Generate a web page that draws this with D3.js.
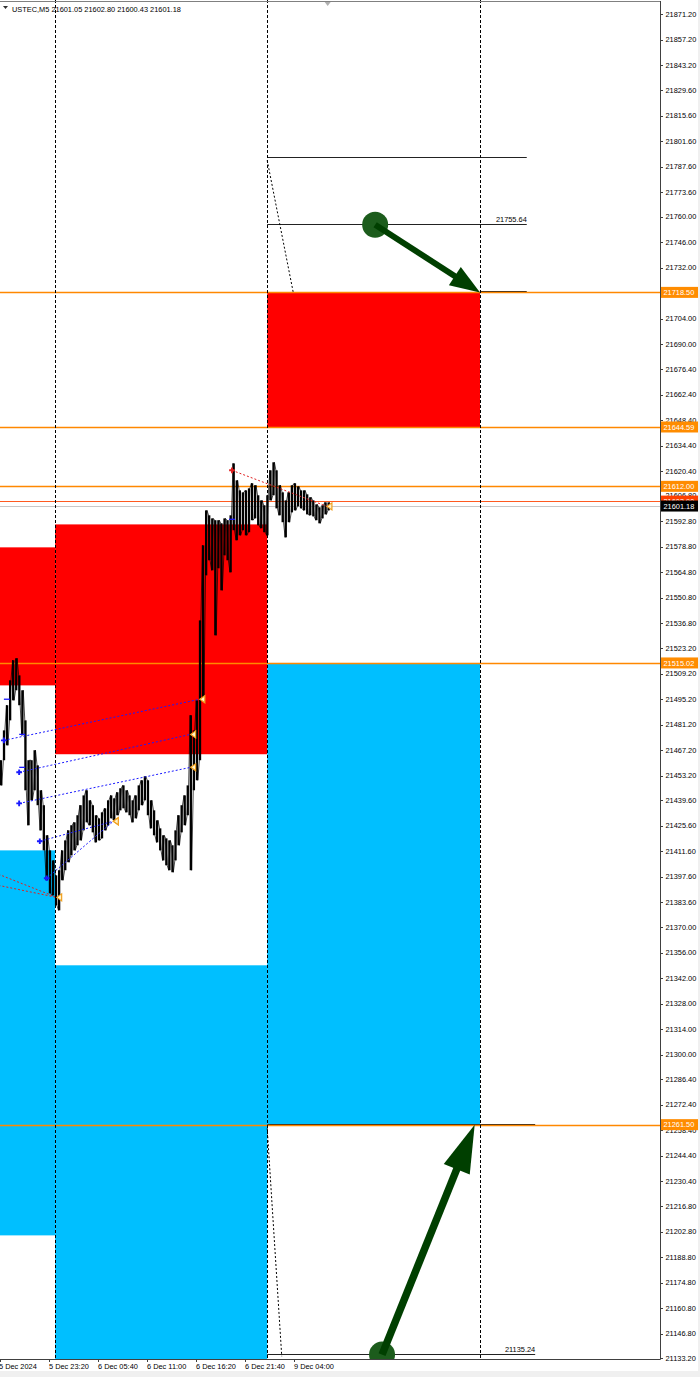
<!DOCTYPE html>
<html><head><meta charset="utf-8">
<script src="https://cdn.jsdelivr.net/npm/d3@7"></script>
<style>html,body{margin:0;padding:0;background:#fff;}svg{display:block;font-family:"Liberation Sans",Arial,sans-serif;}</style>
</head><body><svg id="c" width="700" height="1377"></svg>
<script>
// ---------------- DATA ----------------
const symbolName = "USTEC,M5";
const quote = ["21601.05", "21602.80", "21600.43", "21601.18"];

const priceTicks = [21871.20,21857.20,21843.20,21829.60,21815.60,21801.60,21787.60,21773.60,21760.00,21746.00,21732.00,
  21704.00,21690.00,21676.40,21662.40,21648.40,21634.40,21620.40,21606.80,21592.80,21578.80,21564.80,21550.80,21536.80,
  21523.20,21509.20,21495.20,21481.20,21467.20,21453.20,21439.60,21425.60,21411.60,21397.60,21383.60,21370.00,21356.00,
  21342.00,21328.00,21314.00,21300.00,21286.40,21272.40,21258.40,21244.40,21230.40,21216.80,21202.80,21188.80,21174.80,
  21160.80,21146.80,21133.20];

const timeTickIndex = [0, 64, 128, 192, 256, 320, 384];
const timeTickLabels = ["5 Dec 2024","5 Dec 23:20","6 Dec 05:40","6 Dec 11:00","6 Dec 16:20","6 Dec 21:40","9 Dec 04:00"];

// price series, one high/low pair per group of 4 M5 bars
const barStep = 4;
const barHigh = [21461.6,21478.0,21491.8,21505.5,21516.5,21517.6,21508.2,21500.0,21483.5,21461.6,
  21461.6,21467.1,21458.8,21445.1,21436.9,21420.4,21412.1,21406.6,21398.4,21401.2,
  21412.1,21417.6,21423.1,21425.9,21427.5,21431.4,21436.9,21442.3,21445.1,21439.6,
  21436.9,21431.4,21429.7,21433.0,21435.2,21439.6,21442.3,21440.7,21444.0,21446.2,
  21447.8,21445.1,21442.3,21439.6,21442.3,21447.8,21450.6,21452.8,21450.6,21439.6,
  21434.1,21428.6,21424.2,21420.4,21418.7,21417.6,21414.9,21423.1,21431.4,21436.9,
  21442.3,21447.8,21486.3,21478.0,21494.5,21538.4,21579.6,21598.8,21596.1,21594.4,
  21593.4,21593.4,21591.7,21594.4,21593.4,21596.1,21624.6,21615.3,21609.8,21608.7,
  21609.8,21610.9,21613.7,21612.6,21607.1,21604.3,21601.6,21607.1,21620.8,21625.2,
  21620.8,21612.6,21608.7,21604.3,21608.7,21612.6,21613.7,21612.0,21609.8,21609.8,
  21607.6,21606.0,21604.3,21602.1,21600.5,21601.6,21603.2,21603.2];
const barLow = [21447.8,21461.6,21469.8,21483.5,21494.5,21500.0,21491.8,21475.3,21445.1,21425.9,
  21439.6,21445.1,21436.9,21423.1,21412.1,21395.7,21388.5,21387.4,21381.9,21379.2,
  21395.7,21401.2,21405.6,21409.4,21412.1,21414.9,21417.6,21423.1,21427.5,21425.9,
  21422.0,21416.5,21417.6,21418.7,21423.1,21425.9,21429.7,21428.6,21431.4,21434.1,
  21435.2,21433.0,21431.4,21427.5,21429.7,21434.1,21436.9,21439.6,21431.4,21424.2,
  21420.4,21416.5,21412.1,21406.6,21403.9,21401.2,21400.1,21406.6,21414.9,21422.0,
  21425.9,21431.4,21401.2,21445.1,21450.6,21461.6,21494.5,21563.1,21571.4,21565.9,
  21530.2,21567.0,21554.9,21574.1,21571.4,21564.8,21587.9,21582.4,21585.1,21587.9,
  21585.1,21586.8,21593.4,21594.4,21590.6,21589.0,21586.8,21585.1,21604.3,21607.1,
  21599.9,21596.1,21592.3,21584.0,21592.3,21597.7,21598.8,21601.0,21599.9,21598.8,
  21596.6,21596.1,21595.5,21593.4,21591.7,21594.4,21596.6,21598.8];
const lastBarIndex = 428;

// supply (red) / demand (blue) zones: [startIndex, endIndex, topPrice, bottomPrice]
const redZones = [[-20, 72, 21578.5, 21502.7], [72, 349, 21591.1, 21464.9], [349, 627, 21718.50, 21644.59]];
const blueZones = [[-20, 72, 21412.1, 21200.7], [72, 349, 21349.0, 21100.0], [349, 627, 21515.02, 21261.50]];

const orangeLevels = [21718.50, 21644.59, 21612.00, 21515.02, 21261.50];
const redLevel = 21603.90;
const bidPrice = 21601.18;

const vDashIndex = [72, 349, 627];

// black level segments: [startIndex, endIndex, price, label]
const blackSegments = [[349, 688, 21792.1, ""], [349, 688, 21755.64, "21755.64"], [627, 688, 21718.50, ""],
  [349, 699, 21261.50, ""], [349, 699, 21135.24, "21135.24"]];
// dotted diagonals: [i0, p0, i1, p1]
const dottedDiagonals = [[349, 21791.0, 383, 21718.5], [349, 21259.5, 368, 21134.3]];

// trade link lines: [i0, p0, i1, p1]
const blueLinks = [[5, 21472.5, 261, 21495.1], [25, 21455.0, 249, 21475.8], [25, 21437.9, 249, 21457.7],
  [52, 21417.1, 148, 21428.1], [61, 21396.8, 148, 21428.1]];
const redLinks = [[-2, 21399.0, 74, 21386.3], [-2, 21392.9, 74, 21386.3], [303, 21620.8, 427, 21601.0]];
const closeMarks = [[9, 21495.1], [29, 21475.8], [29, 21457.7], [303, 21593.9]];

// arrows: [i0, p0, i1, p1]
const arrows = [[490, 21755.64, 627, 21718.50], [499, 21135.24, 620, 21261.50]];

// axis price tags
const priceTags = [[21718.50, "#ff8c00"], [21644.59, "#ff8c00"], [21612.00, "#ff8c00"], [21603.90, "#ff4000"],
  [21515.02, "#ff8c00"], [21261.50, "#ff8c00"], [21601.18, "#000000"]];

// ---------------- DRAW ----------------
const W = 700, H = 1377, plotR = 660, plotB = 1359;
const svg = d3.select("#c");
const x = d3.scaleLinear().domain([0, 64]).range([0, 49]);
const y = d3.scaleLinear().domain([21133.2, 21871.2]).range([1358.3, 14.3]);
const FS = 7.4;

svg.append("rect").attr("width", W).attr("height", H).attr("fill", "#fff");
svg.append("defs").append("clipPath").attr("id", "pc").append("rect")
  .attr("x", 0).attr("y", 0).attr("width", plotR).attr("height", plotB);
const g = svg.append("g").attr("clip-path", "url(#pc)");

// zones
g.selectAll(".rz").data(redZones).join("rect")
  .attr("x", d => x(d[0])).attr("width", d => x(d[1]) - x(d[0]))
  .attr("y", d => y(d[2])).attr("height", d => y(d[3]) - y(d[2])).attr("fill", "#ff0000");
g.selectAll(".bz").data(blueZones).join("rect")
  .attr("x", d => x(d[0])).attr("width", d => x(d[1]) - x(d[0]))
  .attr("y", d => y(d[2])).attr("height", d => y(d[3]) - y(d[2])).attr("fill", "#00bfff");

// bid line
g.append("line").attr("x1", 0).attr("x2", plotR).attr("y1", Math.round(y(bidPrice)) + 0.5).attr("y2", Math.round(y(bidPrice)) + 0.5)
  .attr("stroke", "#c8c8c8").attr("stroke-width", 1);

// black segments
g.selectAll(".bs").data(blackSegments).join("line")
  .attr("x1", d => x(d[0])).attr("x2", d => x(d[1]))
  .attr("y1", d => Math.round(y(d[2])) - 0.5).attr("y2", d => Math.round(y(d[2])) - 0.5)
  .attr("stroke", "#222").attr("stroke-width", 1);
g.selectAll(".bsl").data(blackSegments.filter(d => d[3])).join("text")
  .attr("x", d => x(d[1])).attr("y", d => y(d[2]) - 2.5).attr("text-anchor", "end")
  .attr("font-size", FS).attr("fill", "#000").text(d => d[3]);

// orange levels
g.selectAll(".ol").data(orangeLevels).join("line")
  .attr("x1", 0).attr("x2", plotR).attr("y1", d => Math.round(y(d)) + 0.5).attr("y2", d => Math.round(y(d)) + 0.5)
  .attr("stroke", "#ff8800").attr("stroke-width", 1.4);
g.append("line").attr("x1", 0).attr("x2", plotR).attr("y1", Math.round(y(redLevel)) + 0.5).attr("y2", Math.round(y(redLevel)) + 0.5)
  .attr("stroke", "#ff5a20").attr("stroke-width", 1);

// price series: dense high-low strokes
g.selectAll(".hl").data(barHigh).join("rect")
  .attr("x", (d, k) => x(k * barStep) - 0.2).attr("width", 2.3)
  .attr("y", d => y(d)).attr("height", (d, k) => Math.max(1, y(barLow[k]) - y(d)))
  .attr("fill", "#000");
const pts = [];
barHigh.forEach((h, k) => {
  const xx = x(k * barStep);
  if (k % 2 === 0) { pts.push([xx + 0.3, y(h)]); pts.push([xx + 1.8, y(barLow[k])]); }
  else { pts.push([xx + 0.3, y(barLow[k])]); pts.push([xx + 1.8, y(h)]); }
});
g.append("path").attr("d", d3.line()(pts)).attr("fill", "none").attr("stroke", "#000").attr("stroke-width", 0.7);

// link lines
g.selectAll(".bl").data(blueLinks).join("line")
  .attr("x1", d => x(d[0])).attr("y1", d => y(d[1])).attr("x2", d => x(d[2])).attr("y2", d => y(d[3]))
  .attr("stroke", "#1a1aff").attr("stroke-width", 1).attr("stroke-dasharray", "2,2");
g.selectAll(".rl").data(redLinks).join("line")
  .attr("x1", d => x(d[0])).attr("y1", d => y(d[1])).attr("x2", d => x(d[2])).attr("y2", d => y(d[3]))
  .attr("stroke", "#e02020").attr("stroke-width", 1).attr("stroke-dasharray", "2,2");
g.selectAll(".cm").data(closeMarks).join("line")
  .attr("x1", d => x(d[0]) - 3).attr("x2", d => x(d[0]) + 3).attr("y1", d => y(d[1])).attr("y2", d => y(d[1]))
  .attr("stroke", "#1a1aff").attr("stroke-width", 1.3);
// entry markers
const star = d3.symbol(d3.symbolCross, 18);
g.selectAll(".bst").data(blueLinks).join("path").attr("d", star)
  .attr("transform", d => `translate(${x(d[0])},${y(d[1])})`).attr("fill", "#1a1aff");
g.append("path").attr("d", star).attr("transform", `translate(${x(redLinks[2][0])},${y(redLinks[2][1])})`).attr("fill", "#e02020");
// exit triangles
const exits = blueLinks.map(d => [d[2], d[3]]).concat(redLinks.filter((d, i) => i !== 1).map(d => [d[2], d[3]]));
g.selectAll(".ex").data(exits).join("path")
  .attr("d", d => { const a = x(d[0]), b = y(d[1]); return `M${a},${b}L${a + 5},${b - 3.5}L${a + 5},${b + 3.5}Z`; })
  .attr("fill", "#fff2c8").attr("stroke", "#f0a020").attr("stroke-width", 1.2);

// vertical dashed lines
g.selectAll(".vd").data(vDashIndex).join("line")
  .attr("x1", d => Math.round(x(d)) + 0.5).attr("x2", d => Math.round(x(d)) + 0.5).attr("y1", 0).attr("y2", plotB)
  .attr("stroke", "#000").attr("stroke-width", 1).attr("stroke-dasharray", "3,2");
// dotted diagonals
g.selectAll(".dd").data(dottedDiagonals).join("line")
  .attr("x1", d => x(d[0])).attr("y1", d => y(d[1])).attr("x2", d => x(d[2])).attr("y2", d => y(d[3]))
  .attr("stroke", "#000").attr("stroke-width", 1).attr("stroke-dasharray", "2,2");

// arrows
const headLen = [30, 48], headHalf = [11, 14], shaftW = [6, 7.5];
arrows.forEach((d, i) => {
  const x0 = x(d[0]), y0 = y(d[1]), x1 = x(d[2]), y1 = y(d[3]);
  const dx = x1 - x0, dy = y1 - y0, L = Math.hypot(dx, dy), ux = dx / L, uy = dy / L, nx = -uy, ny = ux;
  const bx = x1 - ux * headLen[i], by = y1 - uy * headLen[i];
  g.append("circle").attr("cx", x0).attr("cy", y0).attr("r", 13).attr("fill", "#1c5c1c");
  g.append("line").attr("x1", x0).attr("y1", y0).attr("x2", bx + ux * 2).attr("y2", by + uy * 2)
    .attr("stroke", "#003f00").attr("stroke-width", shaftW[i]);
  g.append("path").attr("d", `M${x1},${y1}L${bx + nx * headHalf[i]},${by + ny * headHalf[i]}L${bx - nx * headHalf[i]},${by - ny * headHalf[i]}Z`)
    .attr("fill", "#003f00");
});

// frame
svg.append("line").attr("x1", 0).attr("x2", plotR).attr("y1", 1.5).attr("y2", 1.5).attr("stroke", "#808080");
svg.append("line").attr("x1", plotR + 0.5).attr("x2", plotR + 0.5).attr("y1", 1).attr("y2", plotB + 0.5).attr("stroke", "#404040");
svg.append("line").attr("x1", 0).attr("x2", plotR + 0.5).attr("y1", plotB + 0.5).attr("y2", plotB + 0.5).attr("stroke", "#404040");
svg.append("rect").attr("x", 0).attr("y", 1371).attr("width", W).attr("height", 6).attr("fill", "#f0f0f0");
svg.append("rect").attr("x", 698).attr("y", 0).attr("width", 2).attr("height", H).attr("fill", "#f0f0f0");

// chart shift marker
const sx = x(lastBarIndex);
svg.append("path").attr("d", `M${sx - 3},2L${sx + 3},2L${sx},6Z`).attr("fill", "#b0b0b0");

// header
svg.append("path").attr("d", "M3,6L8,6L5.5,9Z").attr("fill", "#303030");
svg.append("text").attr("x", 12).attr("y", 11.5).attr("font-size", FS).attr("fill", "#000")
  .text(symbolName + " " + quote.join(" "));

// price axis
const ya = svg.append("g");
ya.selectAll("line").data(priceTicks).join("line")
  .attr("x1", plotR).attr("x2", plotR + 3).attr("y1", d => Math.round(y(d)) + 0.5).attr("y2", d => Math.round(y(d)) + 0.5)
  .attr("stroke", "#404040");
ya.selectAll("text").data(priceTicks).join("text")
  .attr("x", 665.5).attr("y", d => y(d) + 2.6).attr("font-size", FS).attr("fill", "#000").text(d => d.toFixed(2));

// price tags
const tg = svg.append("g");
priceTags.forEach(([p, c]) => {
  const yy = y(p);
  tg.append("rect").attr("x", 661).attr("y", yy - 5.5).attr("width", 37).attr("height", 11).attr("fill", c);
  tg.append("text").attr("x", 663.5).attr("y", yy + 2.6).attr("font-size", FS).attr("fill", "#fff").text(p.toFixed(2));
});

// time axis
const xa = svg.append("g");
xa.selectAll("line").data(timeTickIndex).join("line")
  .attr("x1", d => Math.round(x(d)) + 0.5).attr("x2", d => Math.round(x(d)) + 0.5).attr("y1", plotB).attr("y2", plotB + 3)
  .attr("stroke", "#404040");
xa.selectAll("text").data(timeTickIndex).join("text")
  .attr("x", (d, i) => x(d) + (i === 0 ? -1 : 0)).attr("y", 1368.5).attr("font-size", FS).attr("fill", "#000")
  .text((d, i) => timeTickLabels[i]);
</script></body></html>
